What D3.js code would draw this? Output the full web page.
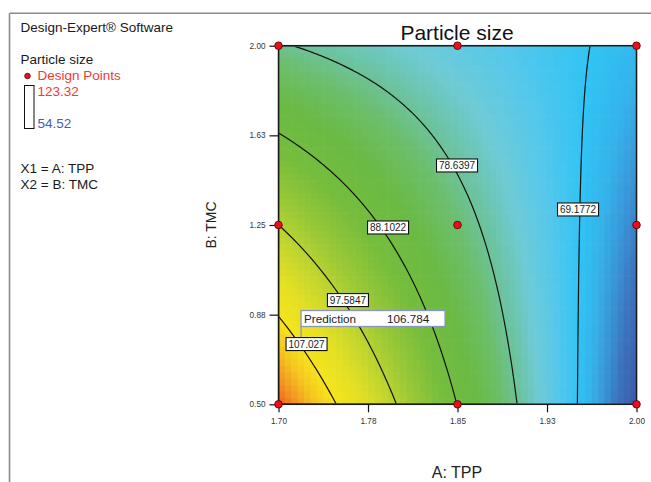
<!DOCTYPE html>
<html>
<head>
<meta charset="utf-8">
<script src="https://cdn.jsdelivr.net/npm/d3@7"></script>
<style>
  html, body { margin: 0; padding: 0; background: #fff; }
  svg { display: block; font-family: "Liberation Sans", Arial, sans-serif; }
</style>
</head>
<body>
<svg id="chart" width="651" height="482"></svg>
<script>
// ---------------- data ----------------
const title = "Particle size";
const xTitle = "A: TPP";
const yTitle = "B: TMC";
const xDomain = [1.70, 2.00];
const yDomain = [0.50, 2.00];
const xTicks = [1.70, 1.775, 1.85, 1.925, 2.00];
const xTickLabels = ["1.70", "1.78", "1.85", "1.93", "2.00"];
const yTicks = [0.50, 0.875, 1.25, 1.625, 2.00];
const yTickLabels = ["0.50", "0.88", "1.25", "1.63", "2.00"];
// fitted response model (coded units): [b0, A, B, AB, A^2, B^2]
const modelCoef = [80.7, -16.9, -7.3, 11.2, 0, 0];
const responseRange = [54.52, 123.32];
const contourLevels = [69.1772, 78.6397, 88.1022, 97.5847, 107.027];
const contourLabelTPP = [1.951, 1.8496, 1.7918, 1.7582, 1.7235];
const contourLabelTMC = [1.315, 1.499, 1.2396, 0.936, 0.752];
const designTPP = [1.70, 1.70, 1.70, 1.85, 1.85, 1.85, 2.00, 2.00, 2.00];
const designTMC = [0.50, 1.25, 2.00, 0.50, 1.25, 2.00, 0.50, 1.25, 2.00];
const predictionTPP = 1.7189;
const predictionTMC = 0.773;
const predictionValue = "106.784";
const colorStopValues = [54.52, 60, 63, 65, 67, 69, 72, 75, 78, 81, 85, 90, 95, 99, 103, 107, 110, 113, 116, 123.32];
const colorStops = ["#3a4a9c", "#3b58a8", "#3b74be", "#3994d6", "#35b2ea", "#30c3f4", "#55c8ec", "#6ecbd6", "#6cc3a0",
                    "#6cbe6a", "#6aba44", "#76bd3c", "#9cc936", "#c4d62e", "#e4e024", "#f6e41c", "#f5c81e", "#f29a20", "#ee6420", "#e63a22"];

// ---------------- layout ----------------
const svg = d3.select("#chart");
const X0 = 278.5, X1 = 636.5, Y0 = 45.7, Y1 = 404.3;
const W = X1 - X0, H = Y1 - Y0;
const x = d3.scaleLinear().domain(xDomain).range([X0, X1]);
const y = d3.scaleLinear().domain(yDomain).range([Y1, Y0]);
const color = d3.scaleLinear().domain(colorStopValues).range(colorStops).clamp(true);

function model(tpp, tmc) {
  const a = (tpp - (xDomain[0] + xDomain[1]) / 2) / ((xDomain[1] - xDomain[0]) / 2);
  const b = (tmc - (yDomain[0] + yDomain[1]) / 2) / ((yDomain[1] - yDomain[0]) / 2);
  const c = modelCoef;
  return c[0] + c[1] * a + c[2] * b + c[3] * a * b + c[4] * a * a + c[5] * b * b;
}

// frame
svg.append("line").attr("x1", 9.5).attr("x2", 651).attr("y1", 13.3).attr("y2", 13.3)
  .attr("stroke", "#8c8c8c").attr("stroke-width", 1.6);
svg.append("line").attr("x1", 9.5).attr("x2", 9.5).attr("y1", 13.3).attr("y2", 482)
  .attr("stroke", "#8c8c8c").attr("stroke-width", 1.6);

// left panel
const lp = svg.append("g").attr("font-size", 13.5).attr("fill", "#1a1a1a");
lp.append("text").attr("x", 20.5).attr("y", 32).text("Design-Expert\u00AE Software");
lp.append("text").attr("x", 20.5).attr("y", 64).text(title);
lp.append("circle").attr("cx", 27.5).attr("cy", 76).attr("r", 2.8).attr("fill", "#e0141c").attr("stroke", "#5a0a0a").attr("stroke-width", 0.8);
lp.append("text").attr("x", 37.5).attr("y", 80).attr("fill", "#f03c32").text("Design Points");
lp.append("rect").attr("x", 24.5).attr("y", 85.5).attr("width", 9.5).attr("height", 43).attr("fill", "#fff").attr("stroke", "#111").attr("stroke-width", 1);
lp.append("text").attr("x", 37.5).attr("y", 96).attr("fill", "#f03c32").text(d3.format(".2f")(responseRange[1]));
lp.append("text").attr("x", 37.5).attr("y", 128).attr("fill", "#4a5cb8").text(d3.format(".2f")(responseRange[0]));
lp.append("text").attr("x", 20.5).attr("y", 173).text("X1 = A: TPP");
lp.append("text").attr("x", 20.5).attr("y", 189).text("X2 = B: TMC");

// heat cells
const NC = 56, NR = 56;
const cells = [];
for (let j = 0; j < NR; j++) for (let i = 0; i < NC; i++) {
  const tpp = xDomain[0] + (i + 0.5) / NC * (xDomain[1] - xDomain[0]);
  const tmc = yDomain[1] - (j + 0.5) / NR * (yDomain[1] - yDomain[0]);
  cells.push({ i, j, v: model(tpp, tmc) });
}
svg.append("g").selectAll("rect").data(cells).join("rect")
  .attr("x", d => X0 + d.i * W / NC)
  .attr("y", d => Y0 + d.j * H / NR)
  .attr("width", W / NC + 0.6)
  .attr("height", H / NR + 0.6)
  .attr("fill", d => color(d.v));

// contours
const GN = 240;
const grid = new Array(GN * GN);
for (let j = 0; j < GN; j++) for (let i = 0; i < GN; i++) {
  const tpp = xDomain[0] + (i + 0.5) / GN * (xDomain[1] - xDomain[0]);
  const tmc = yDomain[1] - (j + 0.5) / GN * (yDomain[1] - yDomain[0]);
  grid[j * GN + i] = model(tpp, tmc);
}
const contours = d3.contours().size([GN, GN]).thresholds(contourLevels)(grid);
const proj = d3.geoTransform({ point: function (px, py) { this.stream.point(X0 + px / GN * W, Y0 + py / GN * H); } });
const defs = svg.append("defs");
defs.append("clipPath").attr("id", "plotclip").append("rect")
  .attr("x", X0 + 0.8).attr("y", Y0 + 0.8).attr("width", W - 1.6).attr("height", H - 1.6);
svg.append("g").attr("clip-path", "url(#plotclip)").selectAll("path").data(contours).join("path")
  .attr("d", d3.geoPath(proj)).attr("fill", "none").attr("stroke", "#111").attr("stroke-width", 1.2);

// plot border
svg.append("rect").attr("x", X0).attr("y", Y0).attr("width", W).attr("height", H)
  .attr("fill", "none").attr("stroke", "#1a1a1a").attr("stroke-width", 1.5);

// axes
const xAxis = d3.axisBottom(x).tickValues(xTicks).tickFormat((d, i) => xTickLabels[i]).tickSize(8).tickSizeOuter(0);
const gx = svg.append("g").attr("transform", `translate(0,${Y1})`).call(xAxis);
gx.select(".domain").remove();
gx.selectAll("line").attr("stroke", "#111").attr("stroke-width", 1.2);
gx.selectAll("text").attr("font-size", 8.2).attr("fill", "#333").attr("dy", "1.05em")
  .attr("font-family", "Liberation Sans, Arial, sans-serif");
const yAxis = d3.axisLeft(y).tickValues(yTicks).tickFormat((d, i) => yTickLabels[i]).tickSize(9).tickSizeOuter(0);
const gy = svg.append("g").attr("transform", `translate(${X0},0)`).call(yAxis);
gy.select(".domain").remove();
gy.selectAll("line").attr("stroke", "#111").attr("stroke-width", 1.2);
gy.selectAll("text").attr("font-size", 8.2).attr("fill", "#333").attr("x", -13)
  .attr("font-family", "Liberation Sans, Arial, sans-serif");

// titles
svg.append("text").attr("x", 457).attr("y", 40).attr("text-anchor", "middle").attr("font-size", 21).attr("fill", "#111").text(title);
svg.append("text").attr("x", 457).attr("y", 478).attr("text-anchor", "middle").attr("font-size", 16).attr("fill", "#222").text(xTitle);
svg.append("text").attr("transform", "translate(216,225) rotate(-90)").attr("text-anchor", "middle").attr("font-size", 14).attr("fill", "#222").text(yTitle);

// prediction flag
const px = x(predictionTPP), py = y(predictionTMC);
svg.append("line").attr("x1", px).attr("x2", px).attr("y1", 326).attr("y2", py)
  .attr("stroke", "#8a94c0").attr("stroke-width", 1.2);

// contour labels
const lab = svg.append("g");
contourLevels.forEach((lv, k) => {
  const cx = x(contourLabelTPP[k]), cy = y(contourLabelTMC[k]);
  const txt = d3.format(".6")(lv);
  const g = lab.append("g");
  g.append("rect").attr("x", cx - 20.5).attr("y", cy - 6.5).attr("width", 41).attr("height", 13)
    .attr("fill", "#fff").attr("stroke", "#111").attr("stroke-width", 1.1);
  g.append("text").attr("x", cx).attr("y", cy + 3.6).attr("text-anchor", "middle")
    .attr("font-size", 10).attr("fill", "#222").text(txt);
});

// prediction box
const pb = svg.append("g");
pb.append("rect").attr("x", px).attr("y", 310.5).attr("width", 144).attr("height", 16)
  .attr("fill", "#fff").attr("stroke", "#8a94c0").attr("stroke-width", 1.3);
pb.append("text").attr("x", px + 3).attr("y", 323).attr("font-size", 11.7).attr("fill", "#222").text("Prediction");
pb.append("text").attr("x", px + 86).attr("y", 323).attr("font-size", 11.7).attr("fill", "#222").text(predictionValue);

// design points
svg.append("g").selectAll("circle").data(designTPP.map((t, i) => [t, designTMC[i]])).join("circle")
  .attr("cx", d => x(d[0])).attr("cy", d => y(d[1])).attr("r", 3.8)
  .attr("fill", "#e8101a").attr("stroke", "#5a0808").attr("stroke-width", 0.9);
</script>
</body>
</html>
